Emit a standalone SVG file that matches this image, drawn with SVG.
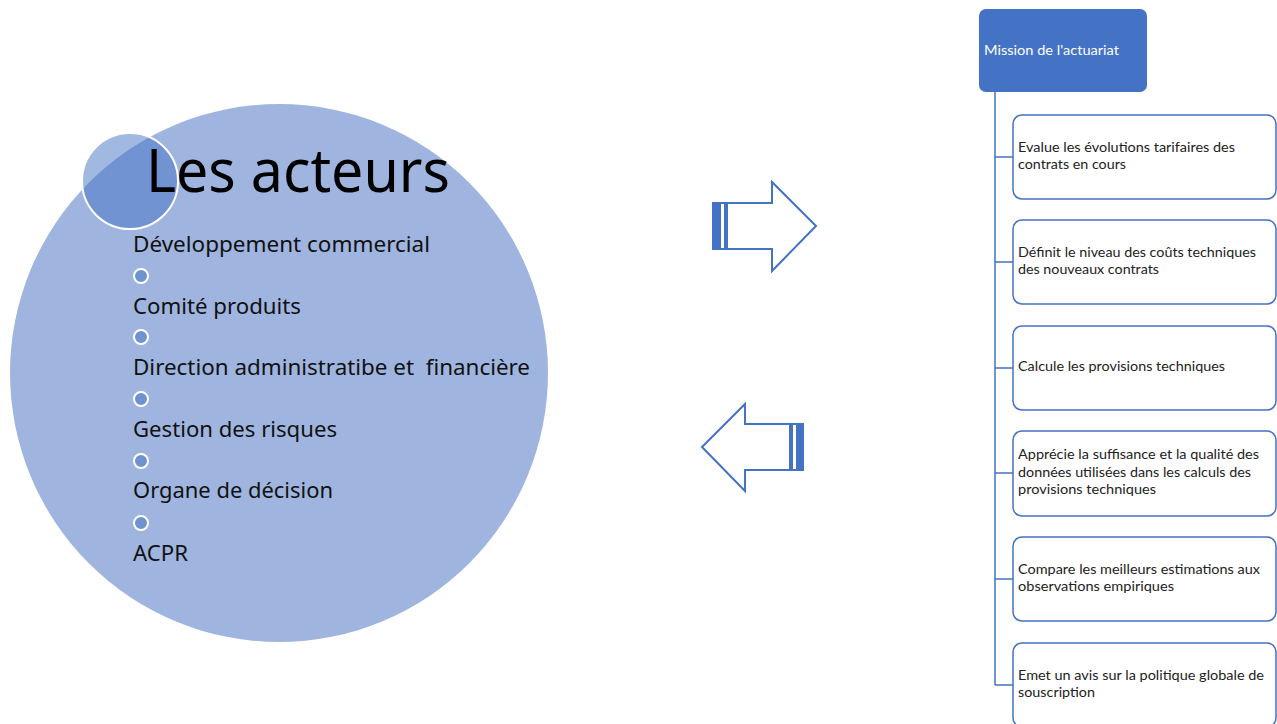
<svg xmlns="http://www.w3.org/2000/svg" width="1277" height="724" viewBox="0 0 1277 724">
<style>
.item{font-family:"Noto Sans","Open Sans","DejaVu Sans",sans-serif;font-size:21px;fill:#111}
.bul{fill:#6f93cf;stroke:#fff;stroke-width:2}
.arrow{fill:#fff;stroke:#4472c4;stroke-width:2;stroke-linejoin:miter}
.stripe{fill:#4472c4}
.child{fill:#fff;stroke:#4472c4;stroke-width:1.5}
.ct{font-family:Lato,"Liberation Sans","DejaVu Sans",sans-serif;font-size:14px;fill:#222}
.conn{stroke:#4472c4;stroke-width:1.5;fill:none}
</style>
<rect width="1277" height="724" fill="#fff"/>
<g id="acteurs">
<circle cx="279" cy="373" r="269" fill="#9fb5df"/>
<circle cx="130" cy="181" r="48" fill="#4472c4" fill-opacity="0.5" stroke="#fff" stroke-width="2"/>
<text x="146" y="192" font-family="Noto Sans, Open Sans, DejaVu Sans, sans-serif" font-size="60" fill="#000" textLength="304" lengthAdjust="spacingAndGlyphs">Les acteurs</text>
<text class="item" x="133" y="252" textLength="297" lengthAdjust="spacingAndGlyphs">Développement commercial</text>
<circle class="bul" cx="141" cy="276" r="7"/>
<text class="item" x="133" y="314" textLength="168" lengthAdjust="spacingAndGlyphs">Comité produits</text>
<circle class="bul" cx="141" cy="337" r="7"/>
<text class="item" x="133" y="375" textLength="397" lengthAdjust="spacingAndGlyphs" xml:space="preserve">Direction administratibe et  financière</text>
<circle class="bul" cx="141" cy="399" r="7"/>
<text class="item" x="133" y="437" textLength="204" lengthAdjust="spacingAndGlyphs">Gestion des risques</text>
<circle class="bul" cx="141" cy="461" r="7"/>
<text class="item" x="133" y="498" textLength="200" lengthAdjust="spacingAndGlyphs">Organe de décision</text>
<circle class="bul" cx="141" cy="523" r="7"/>
<text class="item" x="133" y="561" textLength="55" lengthAdjust="spacingAndGlyphs">ACPR</text>
</g>
<g id="arrow-right">
<path class="arrow" d="M713,203 H772 V182 L816,226 L772,271 V249 H713 Z"/>
<rect class="stripe" x="713" y="203" width="8" height="46"/>
<rect class="stripe" x="724" y="203" width="4" height="46"/>
</g>
<g id="arrow-left">
<path class="arrow" d="M803,424 H745 V404 L702,447 L745,491 V470 H803 Z"/>
<rect class="stripe" x="796" y="424" width="7" height="46"/>
<rect class="stripe" x="789" y="424" width="4" height="46"/>
</g>
<g id="connectors">
<path class="conn" d="M995,92 V685"/>
<path class="conn" d="M995,157 H1013 M995,262 H1013 M995,368 H1013 M995,473 H1013 M995,579 H1013 M995,685 H1013"/>
</g>
<g id="mission">
<rect x="979" y="9" width="168" height="83" rx="7" fill="#4472c4"/>
<text x="984" y="55" font-family="Lato, Liberation Sans, DejaVu Sans, sans-serif" font-size="14" fill="#fff" textLength="135" lengthAdjust="spacingAndGlyphs">Mission de l'actuariat</text>
</g>
<g id="m1">
<rect class="child" x="1013" y="115" width="263" height="84" rx="9"/>
<text class="ct" x="1018" y="152" textLength="217" lengthAdjust="spacingAndGlyphs">Evalue les évolutions tarifaires des</text>
<text class="ct" x="1018" y="169" textLength="108" lengthAdjust="spacingAndGlyphs">contrats en cours</text>
</g>
<g id="m2">
<rect class="child" x="1013" y="220" width="263" height="84" rx="9"/>
<text class="ct" x="1018" y="257" textLength="238" lengthAdjust="spacingAndGlyphs">Définit le niveau des coûts techniques</text>
<text class="ct" x="1018" y="274" textLength="141" lengthAdjust="spacingAndGlyphs">des nouveaux contrats</text>
</g>
<g id="m3">
<rect class="child" x="1013" y="326" width="263" height="84" rx="9"/>
<text class="ct" x="1018" y="371" textLength="207" lengthAdjust="spacingAndGlyphs">Calcule les provisions techniques</text>
</g>
<g id="m4">
<rect class="child" x="1013" y="431" width="263" height="85" rx="9"/>
<text class="ct" x="1018" y="459" textLength="241" lengthAdjust="spacingAndGlyphs">Apprécie la suffisance et la qualité des</text>
<text class="ct" x="1018" y="477" textLength="233" lengthAdjust="spacingAndGlyphs">données utilisées dans les calculs des</text>
<text class="ct" x="1018" y="494" textLength="138" lengthAdjust="spacingAndGlyphs">provisions techniques</text>
</g>
<g id="m5">
<rect class="child" x="1013" y="537" width="263" height="84" rx="9"/>
<text class="ct" x="1018" y="574" textLength="242" lengthAdjust="spacingAndGlyphs">Compare les meilleurs estimations aux</text>
<text class="ct" x="1018" y="591" textLength="156" lengthAdjust="spacingAndGlyphs">observations empiriques</text>
</g>
<g id="m6">
<rect class="child" x="1013" y="643" width="263" height="84" rx="9"/>
<text class="ct" x="1018" y="680" textLength="246" lengthAdjust="spacingAndGlyphs">Emet un avis sur la politique globale de</text>
<text class="ct" x="1018" y="697" textLength="77" lengthAdjust="spacingAndGlyphs">souscription</text>
</g>
</svg>
